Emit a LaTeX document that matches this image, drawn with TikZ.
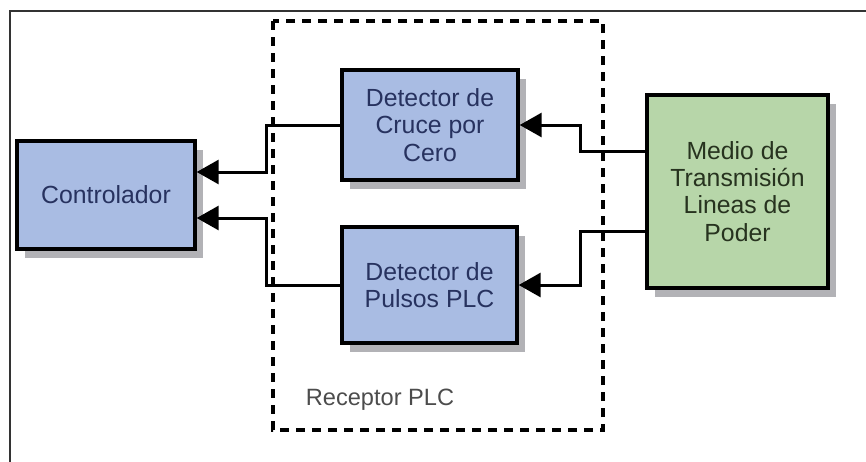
\documentclass[tikz,border=0pt]{standalone}
\usepackage{fontspec}
\setmainfont{Liberation Sans}
\usetikzlibrary{arrows.meta,shadows}
\definecolor{bloqueazul}{HTML}{A9BCE3}
\definecolor{bloqueverde}{HTML}{B7D6A9}
\definecolor{textoazul}{HTML}{27325F}
\definecolor{textoverde}{HTML}{27331F}
\definecolor{sombra}{HTML}{B2B2B6}
\begin{document}
\begin{tikzpicture}[x=0.5pt,y=-0.5pt,
    bloque/.style={draw=black,line width=1.7pt,align=center,inner sep=0pt,
      font=\fontsize{12.4}{13.6}\selectfont,
      drop shadow={shadow xshift=4pt,shadow yshift=-4.5pt,fill=sombra,opacity=1}},
    azul/.style={bloque,fill=bloqueazul,text=textoazul},
    verde/.style={bloque,fill=bloqueverde,text=textoverde},
    senal/.style={line width=1.5pt,-{Triangle[length=11pt,width=12pt]}}]
                \useasboundingbox (0,0) rectangle (866,461);
                \draw[line width=0.7pt,color=black!80] (10,470) -- (10,11) -- (870,11);
                \draw[line width=1.6pt,dash pattern=on 4.5pt off 3.5pt] (273,21) rectangle (603,430);
                \node[text=black!70,font=\fontsize{11.8}{13}\selectfont] (etiqueta) at (380,400) {Receptor PLC};
                \node[azul,minimum width=89pt,minimum height=54pt] (ctrl) at (106,195) {Controlador};
                \node[azul,minimum width=88pt,minimum height=55pt] (cruce) at (430,125) {Detector de\\Cruce por\\Cero};
                \node[azul,minimum width=87.5pt,minimum height=58pt] (pulsos) at (429.5,285) {Detector de\\Pulsos PLC};
                \node[verde,minimum width=90.5pt,minimum height=96.5pt] (medio) at (737.5,191.5) {Medio de\\Transmisión\\Lineas de\\Poder};
                \draw[senal] (cruce.west) -- ++(-74,0) |- ([yshift=11.5pt]ctrl.east);
                \draw[senal] (pulsos.west) -- ++(-74,0) |- ([yshift=-11.5pt]ctrl.east);
                \draw[senal] ([yshift=20pt]medio.west) -- ++(-65,0) |- (cruce.east);
                \draw[senal] ([yshift=-20pt]medio.west) -- ++(-65,0) |- (pulsos.east);
            \end{tikzpicture}
\end{document}
